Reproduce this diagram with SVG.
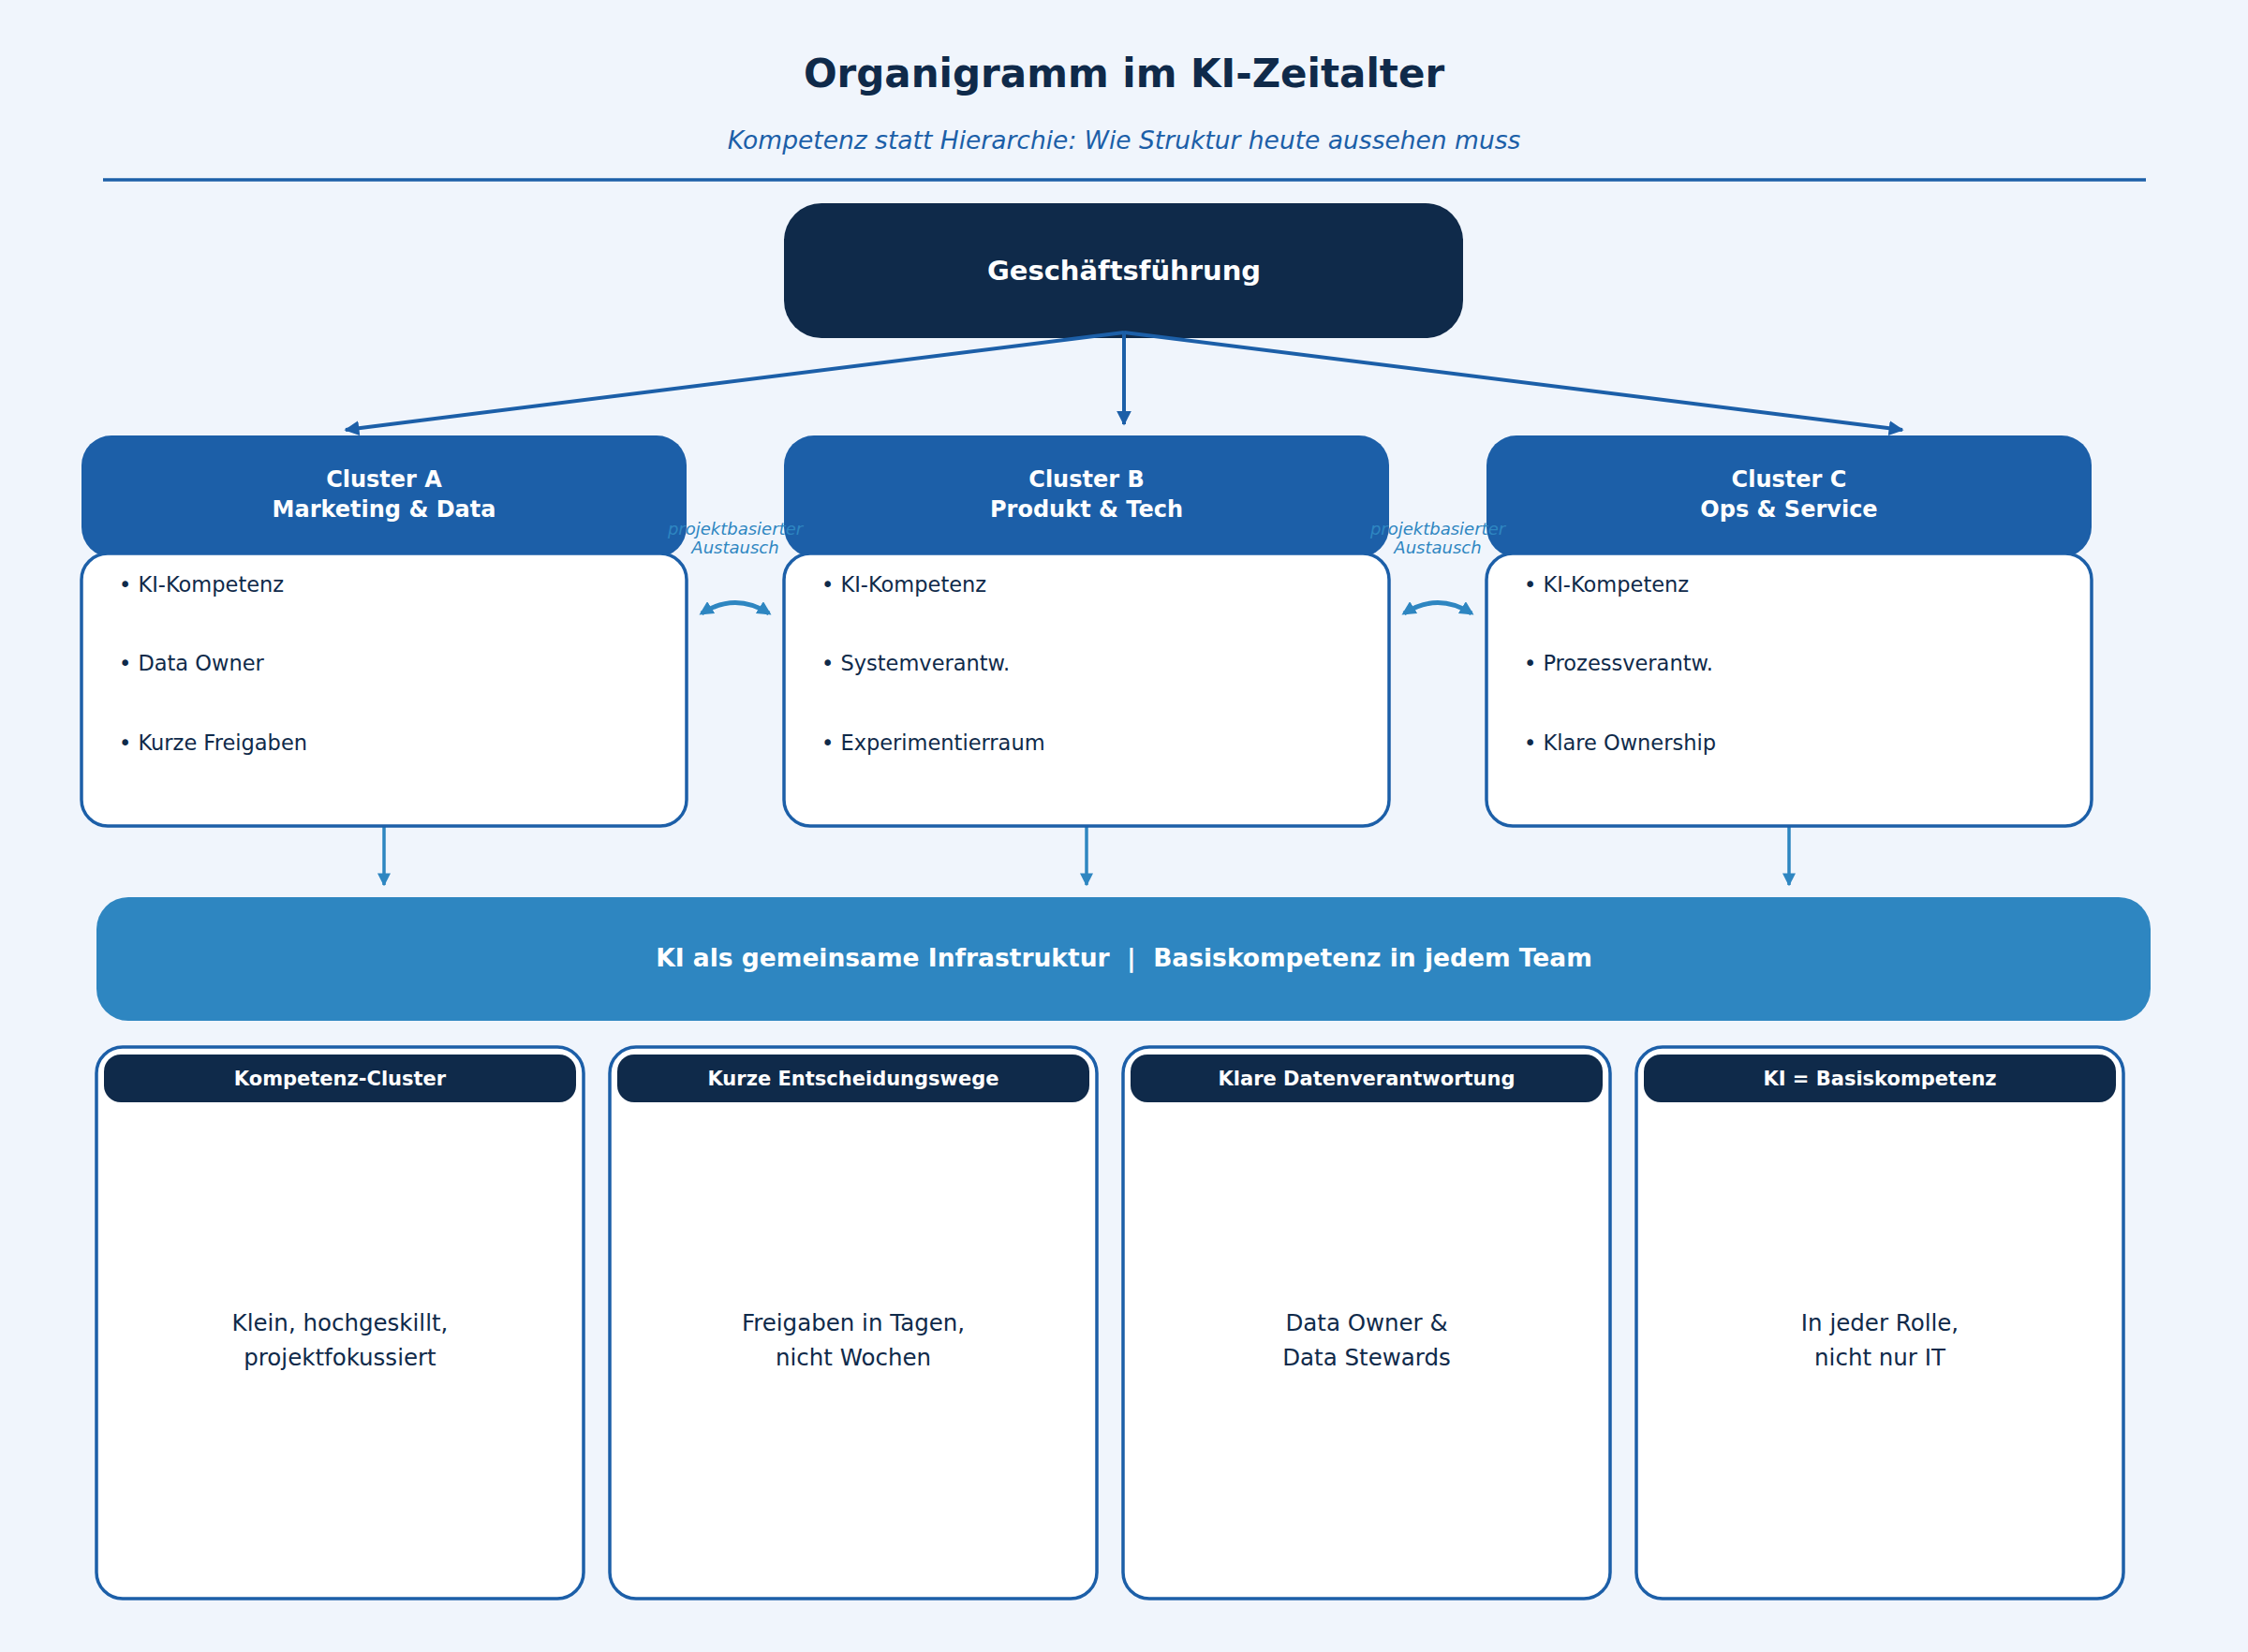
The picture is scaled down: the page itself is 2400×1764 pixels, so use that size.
<svg xmlns="http://www.w3.org/2000/svg" width="2400" height="1764" viewBox="0 0 2400 1764">
<defs>
<style>
text{font-family:"DejaVu Sans",Verdana,sans-serif}
.hd{fill:#1c5fa8}
.body{fill:#fff;stroke:#1c5fa8;stroke-width:3.5}
.bl{font-size:22.5px;fill:#0f2a4a}
.ht{font-size:24px;font-weight:bold;fill:#fff;text-anchor:middle}
.ex{font-size:18px;font-style:italic;fill:#2e86c1;text-anchor:middle}
.ct{font-size:21px;font-weight:bold;fill:#fff;text-anchor:middle}
.cb{font-size:24.5px;fill:#0f2a4a;text-anchor:middle}
.c1{stroke:#1c5fa8;stroke-width:4;fill:none}
.c2{stroke:#2e86c1;stroke-width:3.5;fill:none}
.c3{stroke:#2e86c1;stroke-width:5;fill:none}
</style>
<marker id="a1" viewBox="0 0 10 10" refX="9" refY="5" markerWidth="4" markerHeight="4" orient="auto"><path d="M0,0L10,5L0,10z" fill="#1c5fa8"/></marker>
<marker id="a2" viewBox="0 0 10 10" refX="9" refY="5" markerWidth="4" markerHeight="4" orient="auto-start-reverse"><path d="M0,0L10,5L0,10z" fill="#2e86c1"/></marker>
<marker id="a3" viewBox="0 0 10 10" refX="8" refY="5" markerWidth="3" markerHeight="3" orient="auto-start-reverse"><path d="M0,0L10,5L0,10z" fill="#2e86c1"/></marker>
</defs>
<rect width="2400" height="1764" fill="#f0f5fc"/>
<text x="1200" y="93" text-anchor="middle" font-size="42" font-weight="bold" fill="#0f2a4a">Organigramm im KI-Zeitalter</text>
<text x="1200" y="159" text-anchor="middle" font-size="26.5" font-style="italic" fill="#1c5fa8">Kompetenz statt Hierarchie: Wie Struktur heute aussehen muss</text>
<line x1="110" y1="192" x2="2291" y2="192" stroke="#1c5fa8" stroke-width="3.5"/>
<g id="gf">
<rect x="837" y="217" width="725" height="144" rx="40" fill="#0f2a4a"/>
<text x="1200" y="299" text-anchor="middle" font-size="29" font-weight="bold" fill="#fff">Geschäftsführung</text>
</g>
<g id="connectors">
<line class="c1" x1="1200" y1="355" x2="369" y2="459" marker-end="url(#a1)"/>
<line class="c1" x1="1200" y1="355" x2="1200" y2="453" marker-end="url(#a1)"/>
<line class="c1" x1="1200" y1="355" x2="2031" y2="459" marker-end="url(#a1)"/>
<path class="c3" d="M749,655 Q785,632 821,655" marker-start="url(#a3)" marker-end="url(#a3)"/>
<path class="c3" d="M1499,655 Q1535,632 1571,655" marker-start="url(#a3)" marker-end="url(#a3)"/>
<line class="c2" x1="410" y1="877" x2="410" y2="945" marker-end="url(#a2)"/>
<line class="c2" x1="1160" y1="877" x2="1160" y2="945" marker-end="url(#a2)"/>
<line class="c2" x1="1910" y1="877" x2="1910" y2="945" marker-end="url(#a2)"/>
</g>
<g id="clusterA">
<rect class="hd" x="87" y="465" width="646" height="130" rx="32"/>
<text class="ht" x="410" y="520">Cluster A</text><text class="ht" x="410" y="552">Marketing &amp; Data</text>
<rect class="body" x="87" y="591" width="646" height="291" rx="28"/>
<text class="bl" x="127" y="632">• KI-Kompetenz</text><text class="bl" x="127" y="716">• Data Owner</text><text class="bl" x="127" y="801">• Kurze Freigaben</text>
</g>
<g id="clusterB">
<rect class="hd" x="837" y="465" width="646" height="130" rx="32"/>
<text class="ht" x="1160" y="520">Cluster B</text><text class="ht" x="1160" y="552">Produkt &amp; Tech</text>
<rect class="body" x="837" y="591" width="646" height="291" rx="28"/>
<text class="bl" x="877" y="632">• KI-Kompetenz</text><text class="bl" x="877" y="716">• Systemverantw.</text><text class="bl" x="877" y="801">• Experimentierraum</text>
</g>
<g id="clusterC">
<rect class="hd" x="1587" y="465" width="646" height="130" rx="32"/>
<text class="ht" x="1910" y="520">Cluster C</text><text class="ht" x="1910" y="552">Ops &amp; Service</text>
<rect class="body" x="1587" y="591" width="646" height="291" rx="28"/>
<text class="bl" x="1627" y="632">• KI-Kompetenz</text><text class="bl" x="1627" y="716">• Prozessverantw.</text><text class="bl" x="1627" y="801">• Klare Ownership</text>
</g>
<g id="ex1"><text class="ex" x="785" y="571">projektbasierter</text><text class="ex" x="785" y="591">Austausch</text></g>
<g id="ex2"><text class="ex" x="1535" y="571">projektbasierter</text><text class="ex" x="1535" y="591">Austausch</text></g>
<g id="infra">
<rect x="103" y="958" width="2193" height="132" rx="34" fill="#2e86c1"/>
<text x="1200" y="1032" text-anchor="middle" font-size="26.5" font-weight="bold" fill="#fff" xml:space="preserve">KI als gemeinsame Infrastruktur  |  Basiskompetenz in jedem Team</text>
</g>
<g id="card1">
<rect class="body" x="103" y="1118" width="520" height="589" rx="28"/>
<rect x="111" y="1126" width="504" height="51" rx="18" fill="#0f2a4a"/>
<text class="ct" x="363" y="1159">Kompetenz-Cluster</text>
<text class="cb" x="363" y="1421">Klein, hochgeskillt,</text><text class="cb" x="363" y="1458">projektfokussiert</text>
</g>
<g id="card2">
<rect class="body" x="651" y="1118" width="520" height="589" rx="28"/>
<rect x="659" y="1126" width="504" height="51" rx="18" fill="#0f2a4a"/>
<text class="ct" x="911" y="1159">Kurze Entscheidungswege</text>
<text class="cb" x="911" y="1421">Freigaben in Tagen,</text><text class="cb" x="911" y="1458">nicht Wochen</text>
</g>
<g id="card3">
<rect class="body" x="1199" y="1118" width="520" height="589" rx="28"/>
<rect x="1207" y="1126" width="504" height="51" rx="18" fill="#0f2a4a"/>
<text class="ct" x="1459" y="1159">Klare Datenverantwortung</text>
<text class="cb" x="1459" y="1421">Data Owner &amp;</text><text class="cb" x="1459" y="1458">Data Stewards</text>
</g>
<g id="card4">
<rect class="body" x="1747" y="1118" width="520" height="589" rx="28"/>
<rect x="1755" y="1126" width="504" height="51" rx="18" fill="#0f2a4a"/>
<text class="ct" x="2007" y="1159">KI = Basiskompetenz</text>
<text class="cb" x="2007" y="1421">In jeder Rolle,</text><text class="cb" x="2007" y="1458">nicht nur IT</text>
</g>
</svg>
